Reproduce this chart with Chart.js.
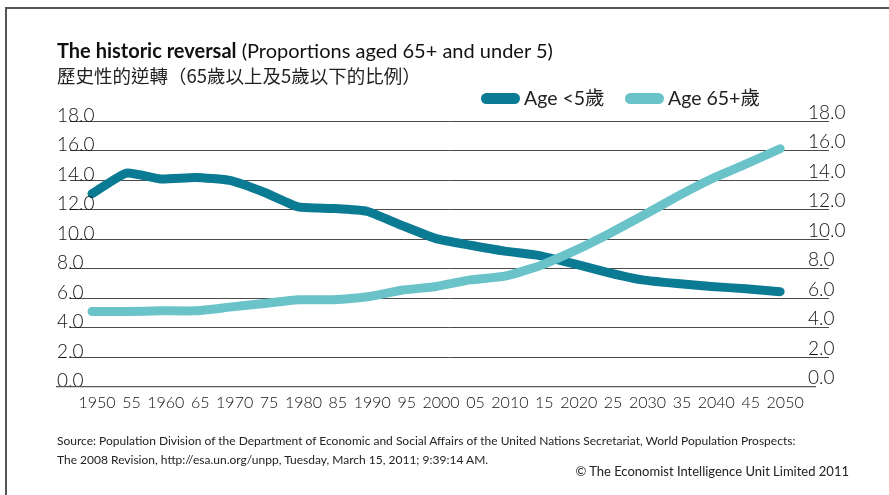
<!DOCTYPE html>
<html>
<head>
<meta charset="utf-8">
<script src="https://cdn.jsdelivr.net/npm/chart.js@4.4.1/dist/chart.umd.min.js"></script>
<style>
  html, body { margin: 0; padding: 0; background: #fff; }
  body { width: 889px; height: 495px; position: relative; overflow: hidden;
         font-family: Lato, "Noto Sans CJK TC", sans-serif; color: #222; }
  #frame { position: absolute; left: 5px; top: 7px; right: -4px; bottom: -4px;
           border-top: 2px solid #555; border-left: 2px solid #555; }
  #chart { position: absolute; left: 0; top: 0; }
  .txt { position: absolute; white-space: nowrap; }
  #title { left: 57px; top: 37px; font-size: 20px; line-height: 26px; color: #111; }
  #title b { font-weight: 700; }
  #subtitle { left: 57px; top: 63px; font-size: 18.5px; line-height: 24px; color: #222;
              font-family: "Noto Sans CJK TC", Lato, sans-serif; }
  .sw { position: absolute; top: 93px; width: 39px; height: 11px; border-radius: 6px; }
  .lg { position: absolute; top: 86px; font-size: 19.5px; line-height: 24px; color: #222;
        font-family: Lato, "Noto Sans CJK TC", sans-serif; }
  #source { left: 57px; top: 431px; font-size: 12px; line-height: 19px; color: #222; }
  #copy { right: 40px; top: 462px; font-size: 13px; line-height: 18px; color: #222; }
</style>
</head>
<body>
<div id="frame"></div>
<canvas id="chart" width="889" height="495"></canvas>
<div class="txt" id="title"><b>The historic reversal</b> (Proportions aged 65+ and under 5)</div>
<div class="txt" id="subtitle">歷史性的逆轉（65歲以上及5歲以下的比例）</div>
<div id="legend"></div>
<div class="txt" id="source">Source: Population Division of the Department of Economic and Social Affairs of the United Nations Secretariat, World Population Prospects:<br>The 2008 Revision, http://esa.un.org/unpp, Tuesday, March 15, 2011; 9:39:14 AM.</div>
<div class="txt" id="copy">© The Economist Intelligence Unit Limited 2011</div>
<script>
const years = [1950, 1955, 1960, 1965, 1970, 1975, 1980, 1985, 1990, 1995, 2000,
               2005, 2010, 2015, 2020, 2025, 2030, 2035, 2040, 2045, 2050];
const yearLabels = ["1950", "55", "1960", "65", "1970", "75", "1980", "85", "1990", "95", "2000",
                    "05", "2010", "15", "2020", "25", "2030", "35", "2040", "45", "2050"];
const under5 = [13.1, 14.5, 14.1, 14.2, 14.0, 13.2, 12.2, 12.1, 11.9, 10.95, 10.05,
                9.6, 9.2, 8.9, 8.35, 7.75, 7.25, 7.0, 6.8, 6.65, 6.45];
const over65 = [5.1, 5.1, 5.15, 5.15, 5.4, 5.65, 5.9, 5.9, 6.1, 6.55, 6.8,
                7.25, 7.5, 8.2, 9.2, 10.35, 11.6, 12.9, 14.1, 15.1, 16.15];
const yTicks = [0, 2, 4, 6, 8, 10, 12, 14, 16, 18];
const seriesNames = ["Age <5歲", "Age 65+歲"];
const colors = ["#0b7a93", "#6bc3ca"];

// legend (html)
const legendPos = [[481, 524], [625, 668]];
const legend = document.getElementById("legend");
seriesNames.forEach((name, i) => {
  const sw = document.createElement("div");
  sw.className = "sw";
  sw.style.left = legendPos[i][0] + "px";
  sw.style.background = colors[i];
  legend.appendChild(sw);
  const t = document.createElement("div");
  t.className = "lg";
  t.style.left = legendPos[i][1] + "px";
  t.textContent = name;
  legend.appendChild(t);
});

// y labels on both sides + the short base line
const axisExtras = {
  id: "axisExtras",
  afterDraw(chart) {
    const ctx = chart.ctx;
    const y = chart.scales.y;
    ctx.save();
    ctx.font = "300 19px Lato";
    ctx.fillStyle = "#111";
    ctx.textAlign = "left";
    ctx.textBaseline = "alphabetic";
    yTicks.forEach(v => {
      const py = y.getPixelForValue(v);
      const s = v.toFixed(1);
      ctx.fillText(s, 57, py + 0.5);
      ctx.fillText(s, 808, py - 2.5);
    });
    const p0 = y.getPixelForValue(0);
    ctx.strokeStyle = "#555";
    ctx.lineWidth = 1.3;
    ctx.beginPath();
    ctx.moveTo(56, p0);
    ctx.lineTo(816, p0);
    ctx.stroke();
    ctx.restore();
  }
};

const mkData = arr => years.map((yr, i) => ({ x: yr, y: arr[i] }));

new Chart(document.getElementById("chart"), {
  type: "line",
  data: {
    datasets: [
      { label: seriesNames[0], data: mkData(under5), borderColor: colors[0], order: 1 },
      { label: seriesNames[1], data: mkData(over65), borderColor: colors[1], order: 0 }
    ]
  },
  options: {
    responsive: false,
    animation: false,
    devicePixelRatio: 1,
    layout: { padding: { left: 70, right: 60, top: 121.5, bottom: 0 } },
    elements: {
      line: { borderWidth: 9, tension: 0.15, borderCapStyle: "round", borderJoinStyle: "round", fill: false },
      point: { radius: 0 }
    },
    plugins: { legend: { display: false }, tooltip: { enabled: false } },
    scales: {
      x: {
        type: "linear",
        min: 1946.8,
        max: 2057.1,
        afterBuildTicks: s => { s.ticks = years.map(v => ({ value: v })); },
        afterFit: s => { s.height = 108.3; },
        grid: { display: false, drawTicks: false },
        border: { display: false },
        ticks: {
          autoSkip: false,
          maxRotation: 0,
          padding: 6.5,
          labelOffset: 5,
          color: "#111",
          font: { family: "Lato", size: 16, weight: 300 },
          callback: (v, i) => yearLabels[i]
        }
      },
      y: {
        min: 0,
        max: 18,
        afterBuildTicks: s => { s.ticks = yTicks.map(v => ({ value: v })); },
        afterFit: s => { s.width = 0; },
        grid: {
          drawTicks: false,
          color: c => (c.tick && c.tick.value === 0 ? "rgba(0,0,0,0)" : "#4a4a4a"),
          lineWidth: 1
        },
        border: { display: false },
        ticks: { display: false }
      }
    }
  },
  plugins: [axisExtras]
});
</script>
</body>
</html>
